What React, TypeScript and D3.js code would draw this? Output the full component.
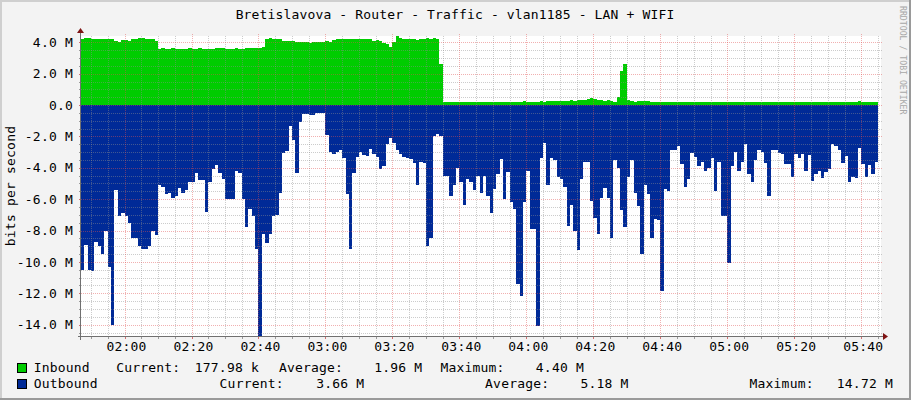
import React from 'react';
import * as d3 from 'd3';

const W = 911;
const H = 400;

// time axis in minutes since midnight
const startMinute = 107; // 01:47
const endMinute = 345; // 05:45

const title = 'Bretislavova - Router - Traffic - vlan1185 - LAN + WIFI';
const yAxisTitle = 'bits per second';
const watermark = 'RRDTOOL / TOBI OETIKER';

// Inbound traffic (M bit/s), one value per minute from 01:47
const inbound = [
  4.23, 4.3, 4.28, 4.22, 4.2, 4.23, 4.2,
  4.18, 4.22, 4.2, 4.05, 4.02,
  4.15, 4.12, 4.05,
  4.2, 4.22, 4.25, 4.25, 4.23, 4.2, 4.18, 4.1,
  3.6, 3.62, 3.6, 3.6, 3.62, 3.6, 3.58, 3.6, 3.6, 3.62,
  3.6, 3.6, 3.62, 3.6, 3.6, 3.58, 3.6, 3.62, 3.65, 3.62,
  3.6, 3.58, 3.6, 3.62, 3.6, 3.6, 3.62, 3.65, 3.65, 3.65,
  3.66, 3.7,
  4.2, 4.25, 4.23, 4.2, 4.18, 4.1, 4.05, 4.1, 4.05, 4.02,
  4.0, 4.02, 4.0, 3.98, 4.02, 4.0, 4.0, 4.02, 4.05, 4.0,
  4.15, 4.2, 4.18, 4.2, 4.22, 4.2, 4.22, 4.2, 4.2, 4.18,
  4.2, 4.18, 4.05, 4.15, 4.1, 3.95, 3.9, 3.68,
  4.0, 4.4,
  4.3, 4.22, 4.2, 4.18, 4.2, 4.15, 4.22, 4.2, 4.25, 4.22, 4.25, 4.2,
  2.6,
  0.22, 0.2, 0.18, 0.18, 0.17, 0.18, 0.2, 0.2, 0.18, 0.17,
  0.17, 0.18, 0.2, 0.2, 0.2, 0.17, 0.17, 0.18, 0.18, 0.2,
  0.22, 0.2, 0.18, 0.18, 0.25, 0.2,
  0.2, 0.22, 0.2, 0.25, 0.22, 0.25, 0.25, 0.28, 0.25, 0.25,
  0.27, 0.27, 0.3, 0.28, 0.3, 0.33, 0.35, 0.38, 0.42, 0.4,
  0.32, 0.3, 0.28, 0.3, 0.25, 0.22,
  0.5, 2.2, 2.6, 0.3,
  0.25, 0.22, 0.25, 0.28, 0.28, 0.25, 0.22, 0.2, 0.22, 0.22,
  0.2, 0.18, 0.18, 0.2, 0.22, 0.2, 0.18, 0.18, 0.2, 0.2,
  0.18, 0.17, 0.18, 0.2, 0.2, 0.18, 0.17, 0.17, 0.2, 0.22,
  0.2, 0.18, 0.18, 0.17, 0.18, 0.2, 0.2, 0.18, 0.17, 0.17,
  0.18, 0.2, 0.22, 0.2, 0.18, 0.17, 0.18, 0.2, 0.2, 0.18,
  0.17, 0.18, 0.22, 0.2, 0.18, 0.17, 0.18, 0.2, 0.2, 0.18,
  0.22, 0.2, 0.18, 0.17, 0.18, 0.2, 0.2, 0.22, 0.25, 0.22,
  0.2, 0.18, 0.18, 0.178,
];

// Outbound traffic (M bit/s, drawn below zero), one value per minute from 01:47
const outbound = [
  10.5, 8.9, 10.5, 10.6, 8.7, 9.0, 9.5, 8.0, 10.3, 14.0,
  5.4, 7.1, 6.9, 7.1, 7.5, 8.45, 8.45, 9.0, 9.2, 9.2,
  9.0, 8.0, 8.3, 5.1, 5.2, 5.7, 5.6, 5.9, 5.8, 5.3,
  5.6, 5.4, 4.9, 4.9, 4.3, 4.8, 4.8, 6.8, 4.9, 4.1,
  3.8, 4.3, 4.7, 6.0, 6.0, 6.0, 4.2, 4.3, 6.0, 7.8,
  6.6, 7.1, 9.2, 14.72, 8.2, 8.8, 8.2, 7.1, 7.0, 5.6,
  3.06, 2.9, 1.33, 2.2, 4.3, 1.05, 0.57, 0.57, 0.63, 0.63,
  0.53, 0.53, 0.53, 1.9, 3.0, 3.1, 3.0, 2.85, 3.4, 5.7,
  9.2, 4.3, 3.3, 3.0, 3.2, 3.24, 2.8, 3.1, 3.3, 4.1,
  3.9, 2.5, 2.1, 2.45, 2.85, 3.1, 3.3, 3.4, 3.45, 3.7,
  5.1, 3.6, 3.7, 9.0, 8.5, 2.0, 1.86, 1.96, 4.5, 4.5,
  5.8, 5.1, 4.0, 4.9, 6.4, 4.7, 4.9, 5.4, 4.5, 5.6,
  4.5, 5.8, 6.85, 5.35, 4.4, 3.45, 6.0, 4.25, 6.2, 6.6,
  11.4, 12.2, 6.2, 4.2, 7.9, 7.9, 14.1, 3.4, 2.4, 5.1,
  3.4, 3.5, 4.6, 4.7, 5.2, 7.7, 6.4, 8.0, 9.25, 4.7,
  3.6, 3.6, 6.1, 7.2, 8.2, 5.9, 5.3, 5.9, 8.5, 3.5,
  4.0, 6.7, 7.8, 4.6, 3.5, 5.6, 6.45, 9.5, 5.1, 5.7,
  8.5, 7.25, 7.3, 11.85, 5.35, 5.5, 2.85, 2.85, 2.6, 3.75,
  5.2, 4.7, 3.06, 3.3, 3.9, 3.6, 4.2, 4.0, 3.4, 5.5,
  3.6, 7.1, 7.1, 10.05, 3.9, 3.0, 4.2, 3.6, 2.5, 4.4,
  4.9, 3.5, 2.85, 3.0, 3.7, 5.8, 2.85, 2.85, 3.05, 3.1,
  3.75, 3.75, 4.6, 3.1, 3.4, 3.1, 4.2, 3.2, 4.85, 4.4,
  4.2, 4.65, 4.25, 4.1, 2.5, 2.6, 2.85, 3.7, 3.25, 4.9,
  4.6, 4.65, 2.75, 3.75, 4.6, 3.85, 4.4, 3.66,
];

const yMajorTicks = [4, 2, 0, -2, -4, -6, -8, -10, -12, -14];
const xMajorTicks = [120, 140, 160, 180, 200, 220, 240, 260, 280, 300, 320, 340];

const legendRows = [
  { name: 'Inbound', color: '#00CC00', current: '177.98 k', average: '1.96 M', maximum: '4.40 M' },
  { name: 'Outbound', color: '#002A97', current: '3.66 M', average: '5.18 M', maximum: '14.72 M' },
];

const FONT = "'DejaVu Sans Mono', 'Liberation Mono', monospace";

const fmtTime = (m: number) => {
  const h = Math.floor(m / 60);
  const mm = m % 60;
  return `${String(h).padStart(2, '0')}:${String(mm).padStart(2, '0')}`;
};
const fmtY = (v: number) => (v === 0 ? '0.0' : `${v.toFixed(1)} M`);

export default function App() {
  const X0 = 81, X1 = 878, CX1 = 881;
  const Y0 = 336, Y1 = 36;
  const x = d3.scaleLinear().domain([startMinute, endMinute]).range([X0, X1]);
  const y = d3.scaleLinear().domain([-14.72, 4.4]).range([Y0, Y1]);

  const toPts = (vals: number[], sign: number) => {
    const pts = vals.map((v, i) => ({ t: startMinute + i, v: sign * v }));
    pts.push({ t: startMinute + vals.length, v: sign * vals[vals.length - 1] });
    return pts;
  };
  const area = d3
    .area<{ t: number; v: number }>()
    .x((d) => x(d.t))
    .y0(y(0))
    .y1((d) => y(d.v))
    .curve(d3.curveStepAfter);

  const inPath = area(toPts(inbound, 1)) || '';
  const outPath = area(toPts(outbound, -1)) || '';

  const minorY = d3.range(-14.5, 4.01, 0.5).filter((v) => Math.abs(v % 2) > 1e-6);
  const minorX = d3.range(110, endMinute + 0.1, 5).filter((m) => m % 20 !== 0);

  const minorStroke = 'rgba(143,143,143,0.45)';
  const majorStroke = 'rgba(224,80,80,0.45)';

  return (
    <svg
      width={W}
      height={H}
      style={{ position: 'absolute', left: 0, top: 0, display: 'block' }}
      fontFamily={FONT}
    >
      <rect x={0} y={0} width={W} height={H} fill="#F3F3F3" />
      {/* frame */}
      <rect x={0} y={0} width={W} height={2} fill="#CFCFCF" />
      <rect x={0} y={0} width={2} height={H} fill="#CFCFCF" />
      <rect x={0} y={H - 2} width={W} height={2} fill="#9A9A9A" />
      <rect x={W - 2} y={0} width={2} height={H} fill="#9A9A9A" />

      {/* canvas */}
      <rect x={X0} y={Y1} width={CX1 - X0} height={Y0 - Y1} fill="#FFFFFF" />

      {/* areas */}
      <path d={inPath} fill="#00CC00" shapeRendering="crispEdges" />
      <path d={outPath} fill="#002A97" shapeRendering="crispEdges" />

      {/* grid */}
      <g shapeRendering="crispEdges" strokeWidth={1}>
        {minorY.map((v) => (
          <line key={'my' + v} x1={X0} x2={CX1 + 2} y1={Math.round(y(v)) + 0.5} y2={Math.round(y(v)) + 0.5}
            stroke={minorStroke} strokeDasharray="1 1" />
        ))}
        {minorX.map((m) => (
          <line key={'mx' + m} y1={Y1} y2={Y0} x1={Math.round(x(m)) + 0.5} x2={Math.round(x(m)) + 0.5}
            stroke={minorStroke} strokeDasharray="1 1" />
        ))}
        {yMajorTicks.map((v) => (
          <line key={'My' + v} x1={X0} x2={CX1 + 2} y1={Math.round(y(v)) + 0.5} y2={Math.round(y(v)) + 0.5}
            stroke={majorStroke} strokeDasharray="1 1" />
        ))}
        {xMajorTicks.map((m) => (
          <line key={'Mx' + m} y1={Y1 - 2} y2={Y0} x1={Math.round(x(m)) + 0.5} x2={Math.round(x(m)) + 0.5}
            stroke={majorStroke} strokeDasharray="1 1" />
        ))}
        {/* axis ticks */}
        {minorY.map((v) => (
          <line key={'ty' + v} x1={X0 - 2} x2={X0} y1={Math.round(y(v)) + 0.5} y2={Math.round(y(v)) + 0.5} stroke="#9a9a9a" />
        ))}
        {yMajorTicks.map((v) => (
          <line key={'tY' + v} x1={X0 - 2} x2={X0} y1={Math.round(y(v)) + 0.5} y2={Math.round(y(v)) + 0.5} stroke="#d07070" />
        ))}
        {minorX.map((m) => (
          <line key={'tx' + m} y1={Y0} y2={Y0 + 3} x1={Math.round(x(m)) + 0.5} x2={Math.round(x(m)) + 0.5} stroke="#9a9a9a" />
        ))}
        {xMajorTicks.map((m) => (
          <line key={'tX' + m} y1={Y0} y2={Y0 + 3} x1={Math.round(x(m)) + 0.5} x2={Math.round(x(m)) + 0.5} stroke="#d07070" />
        ))}
      </g>

      {/* axes */}
      <g shapeRendering="crispEdges">
        <line x1={X0 - 3} x2={CX1 + 4} y1={Y0 + 0.5} y2={Y0 + 0.5} stroke="#707070" />
        <line x1={X0 - 0.5} x2={X0 - 0.5} y1={Y0 + 4} y2={Y1 - 4} stroke="#707070" />
      </g>
      <path d={`M${CX1 + 7},${Y0 + 0.5} L${CX1 + 2},${Y0 - 3} L${CX1 + 2},${Y0 + 4} Z`} fill="#7F1414" />
      <path d={`M${X0 - 0.5},${Y1 - 8} L${X0 - 4},${Y1 - 3} L${X0 + 3},${Y1 - 3} Z`} fill="#7F1414" />

      {/* title */}
      <text x={455} y={18.5} textAnchor="middle" fontSize={13} letterSpacing={0.15} fill="#000">
        {title}
      </text>

      {/* y labels */}
      {yMajorTicks.map((v) => (
        <text key={'yl' + v} x={73} y={y(v) + 4.6} textAnchor="end" fontSize={13} letterSpacing={0.2} fill="#000">
          {fmtY(v)}
        </text>
      ))}
      <text transform={`translate(15,186) rotate(-90)`} textAnchor="middle" fontSize={13} letterSpacing={0.2} fill="#000">
        {yAxisTitle}
      </text>

      {/* x labels */}
      {xMajorTicks.map((m) => (
        <text key={'xl' + m} x={x(m) + 2} y={351} textAnchor="middle" fontSize={13} letterSpacing={0.2} fill="#000">
          {fmtTime(m)}
        </text>
      ))}

      {/* watermark */}
      <text transform={`translate(900,6) rotate(90)`} fontSize={8.2} fill="#A8A8A8">
        {watermark}
      </text>

      {/* legend */}
      {legendRows.map((r, i) => {
        const base = 372.3 + i * 16;
        const pos = i === 0
          ? { cur: 116.2, curV: 259, avg: 278.9, avgV: 422.4, max: 440.4, maxV: 584 }
          : { cur: 219.6, curV: 364.3, avg: 485.1, avgV: 628.6, max: 749.5, maxV: 893 };
        return (
          <g key={r.name} fontSize={13} fill="#000" letterSpacing={0.2}>
            <rect x={17.5} y={base - 9.3} width={9} height={9} fill={r.color} stroke="#000" strokeWidth={1} shapeRendering="crispEdges" />
            <text x={33.7} y={base}>{r.name}</text>
            <text x={pos.cur} y={base}>Current:</text>
            <text x={pos.curV} y={base} textAnchor="end">{r.current}</text>
            <text x={pos.avg} y={base}>Average:</text>
            <text x={pos.avgV} y={base} textAnchor="end">{r.average}</text>
            <text x={pos.max} y={base}>Maximum:</text>
            <text x={pos.maxV} y={base} textAnchor="end">{r.maximum}</text>
          </g>
        );
      })}
    </svg>
  );
}
